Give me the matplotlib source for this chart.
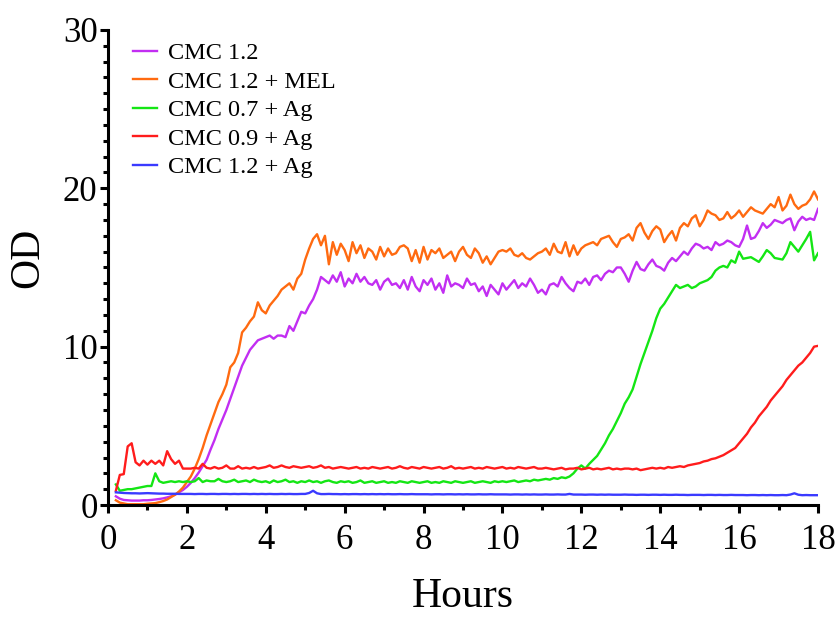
import numpy as np
import matplotlib
matplotlib.use("Agg")
import matplotlib.pyplot as plt
from matplotlib.ticker import MultipleLocator

plt.rcParams['font.family'] = ['Liberation Serif', 'DejaVu Serif']

# readings every 6 min, from 0.2 h to 18.0 h
hours = np.round(np.arange(2, 181) * 0.1, 1)

cmc12 = (
    [0.55, 0.4, 0.32, 0.3, 0.28, 0.28, 0.28, 0.3] +
    [0.3, 0.32, 0.35, 0.38, 0.42, 0.48, 0.55, 0.65, 0.8, 0.95] +
    [1.15, 1.4, 1.7, 2.05, 2.45, 2.85, 3.5, 4.1, 4.8, 5.4] +
    [6.0, 6.7, 7.4, 8.1, 8.8, 9.3, 9.8, 10.1, 10.4, 10.5] +
    [10.6, 10.7, 10.5, 10.7, 10.7, 10.6, 11.3, 11.0, 11.6, 12.2] +
    [12.1, 12.6, 13.0, 13.6, 14.4, 14.2, 14.0, 14.5, 14.1, 14.7] +
    [13.8, 14.3, 14.0, 14.6, 14.1, 14.4, 14.0, 13.9, 14.2, 13.6] +
    [14.1, 14.3, 13.9, 14.0, 13.7, 14.2, 13.6, 14.4, 13.8, 13.5] +
    [14.2, 13.9, 14.3, 13.6, 14.0, 13.4, 14.5, 13.8, 14.0, 13.9] +
    [13.7, 14.3, 13.9, 14.0, 13.5, 13.8, 13.2, 13.9, 13.6, 13.3] +
    [14.0, 13.6, 13.9, 14.2, 13.7, 14.0, 13.8, 14.3, 13.9, 13.4] +
    [13.6, 13.3, 13.9, 14.0, 13.8, 14.4, 14.0, 13.7, 13.5, 14.1] +
    [14.0, 14.3, 13.9, 14.4, 14.5, 14.2, 14.6, 14.8, 14.7, 15.0] +
    [15.0, 14.6, 14.1, 14.8, 15.35, 14.9, 14.8, 15.2, 15.5, 15.1] +
    [15.0, 14.8, 15.3, 15.6, 15.4, 15.7, 16.0, 15.8, 16.2, 16.5] +
    [16.4, 16.2, 16.3, 16.1, 16.6, 16.4, 16.5, 16.7, 16.6, 16.4] +
    [16.3, 16.8, 17.65, 16.8, 16.9, 17.3, 17.8, 17.5, 17.7, 18.0] +
    [17.9, 17.8, 18.0, 18.1, 17.35, 17.9, 18.2, 18.0, 18.1, 18.0] +
    [18.7]
)

cmc12_mel = (
    [0.3, 0.15, 0.1, 0.05, 0.05, 0.05, 0.05, 0.05] +
    [0.08, 0.1, 0.12, 0.18, 0.25, 0.35, 0.5, 0.65, 0.85, 1.1] +
    [1.45, 1.8, 2.3, 2.9, 3.6, 4.4, 5.1, 5.8, 6.5, 7.0] +
    [7.6, 8.7, 9.0, 9.6, 10.9, 11.2, 11.6, 11.9, 12.8, 12.3] +
    [12.1, 12.6, 12.9, 13.2, 13.6, 13.8, 14.0, 13.6, 14.3, 14.6] +
    [15.5, 16.2, 16.8, 17.1, 16.4, 17.0, 15.2, 16.6, 15.8, 16.5] +
    [16.1, 15.4, 16.6, 15.9, 16.4, 15.6, 16.2, 16.0, 15.5, 16.3] +
    [15.7, 16.2, 15.8, 15.9, 16.3, 16.4, 16.2, 15.4, 16.1, 15.3] +
    [16.3, 15.5, 16.1, 15.9, 16.2, 15.6, 15.8, 16.0, 15.4, 16.0] +
    [16.3, 15.8, 15.6, 16.2, 15.9, 15.3, 15.7, 15.2, 15.6, 16.0] +
    [16.1, 16.0, 16.2, 15.8, 15.7, 15.9, 15.6, 15.5, 15.7, 15.9] +
    [16.0, 16.2, 15.8, 16.5, 16.0, 15.9, 16.6, 15.7, 16.4, 15.8] +
    [16.2, 16.4, 16.5, 16.6, 16.4, 16.8, 16.9, 17.0, 16.6, 16.3] +
    [16.8, 16.9, 17.1, 16.7, 17.5, 17.8, 17.2, 16.8, 17.3, 17.6] +
    [17.4, 16.6, 17.0, 17.3, 16.7, 17.5, 17.8, 17.6, 18.1, 18.3] +
    [17.6, 18.0, 18.6, 18.4, 18.3, 18.0, 18.1, 18.5, 18.1, 18.3] +
    [18.6, 18.2, 18.5, 18.8, 18.6, 18.5, 18.4, 18.7, 19.0, 18.8] +
    [19.45, 18.6, 18.9, 19.6, 19.0, 18.7, 18.9, 19.0, 19.3, 19.8] +
    [19.3]
)

cmc07_ag = (
    [1.3, 0.9, 0.95, 1.0, 1.0, 1.05, 1.1, 1.15] +
    [1.2, 1.2, 2.0, 1.5, 1.4, 1.45, 1.5, 1.45, 1.5, 1.45] +
    [1.5, 1.45, 1.5, 1.7, 1.45, 1.55, 1.5, 1.5, 1.65, 1.5] +
    [1.45, 1.5, 1.6, 1.45, 1.5, 1.55, 1.45, 1.6, 1.5, 1.45] +
    [1.5, 1.4, 1.55, 1.45, 1.5, 1.6, 1.45, 1.5, 1.4, 1.5] +
    [1.45, 1.55, 1.45, 1.5, 1.4, 1.5, 1.55, 1.45, 1.4, 1.5] +
    [1.45, 1.5, 1.4, 1.45, 1.55, 1.4, 1.45, 1.5, 1.4, 1.45] +
    [1.5, 1.4, 1.45, 1.4, 1.5, 1.45, 1.4, 1.5, 1.45, 1.4] +
    [1.45, 1.5, 1.4, 1.45, 1.4, 1.5, 1.45, 1.4, 1.5, 1.45] +
    [1.4, 1.45, 1.5, 1.4, 1.45, 1.5, 1.45, 1.4, 1.5, 1.45] +
    [1.5, 1.45, 1.5, 1.55, 1.45, 1.5, 1.55, 1.5, 1.6, 1.55] +
    [1.6, 1.65, 1.6, 1.7, 1.65, 1.75, 1.7, 1.8, 2.0, 2.3] +
    [2.5, 2.3, 2.6, 2.85, 3.1, 3.5, 3.9, 4.4, 4.8, 5.3] +
    [5.8, 6.4, 6.8, 7.3, 8.1, 8.9, 9.6, 10.3, 11.0, 11.8] +
    [12.4, 12.7, 13.1, 13.5, 13.9, 13.7, 13.8, 13.9, 13.7, 13.8] +
    [14.0, 14.1, 14.2, 14.4, 14.8, 15.0, 15.1, 15.0, 15.45, 15.3] +
    [16.0, 15.55, 15.6, 15.65, 15.5, 15.35, 15.7, 16.1, 15.9, 15.6] +
    [15.55, 15.5, 15.9, 16.6, 16.3, 16.0, 16.4, 16.8, 17.25, 15.45] +
    [15.9]
)

cmc09_ag = (
    [0.9, 1.9, 1.95, 3.7, 3.9, 2.7, 2.5, 2.8] +
    [2.55, 2.8, 2.6, 2.8, 2.5, 3.4, 2.9, 2.6, 2.8, 2.3] +
    [2.3, 2.3, 2.35, 2.3, 2.6, 2.35, 2.3, 2.4, 2.3, 2.35] +
    [2.5, 2.3, 2.3, 2.45, 2.3, 2.35, 2.3, 2.4, 2.3, 2.35] +
    [2.4, 2.5, 2.35, 2.4, 2.5, 2.4, 2.35, 2.45, 2.4, 2.35] +
    [2.4, 2.45, 2.35, 2.4, 2.5, 2.35, 2.4, 2.3, 2.35, 2.4] +
    [2.35, 2.3, 2.35, 2.4, 2.3, 2.35, 2.3, 2.4, 2.35, 2.3] +
    [2.35, 2.4, 2.3, 2.35, 2.45, 2.35, 2.3, 2.4, 2.35, 2.3] +
    [2.4, 2.35, 2.3, 2.35, 2.4, 2.3, 2.35, 2.45, 2.3, 2.35] +
    [2.3, 2.35, 2.4, 2.3, 2.35, 2.3, 2.4, 2.35, 2.3, 2.35] +
    [2.4, 2.3, 2.35, 2.3, 2.4, 2.35, 2.3, 2.35, 2.4, 2.3] +
    [2.3, 2.35, 2.3, 2.25, 2.3, 2.35, 2.25, 2.3, 2.3, 2.35] +
    [2.25, 2.3, 2.35, 2.25, 2.3, 2.25, 2.3, 2.35, 2.25, 2.3] +
    [2.25, 2.3, 2.3, 2.25, 2.3, 2.2, 2.25, 2.3, 2.35, 2.3] +
    [2.35, 2.3, 2.4, 2.35, 2.4, 2.45, 2.4, 2.5, 2.55, 2.6] +
    [2.65, 2.75, 2.8, 2.9, 2.95, 3.05, 3.15, 3.3, 3.45, 3.6] +
    [3.9, 4.2, 4.5, 4.9, 5.2, 5.6, 5.9, 6.2, 6.6, 6.9] +
    [7.2, 7.5, 7.9, 8.2, 8.5, 8.8, 9.0, 9.3, 9.6, 10.0] +
    [10.05]
)

cmc12_ag = (
    [0.80, 0.78, 0.76, 0.75, 0.74, 0.74, 0.73, 0.74] +
    [0.75, 0.74, 0.73, 0.72, 0.72, 0.71, 0.71, 0.71, 0.70, 0.70] +
    [0.70, 0.70, 0.69, 0.70, 0.70, 0.69, 0.70, 0.70, 0.69, 0.70] +
    [0.70, 0.69, 0.70, 0.69, 0.70, 0.70, 0.69, 0.70, 0.69, 0.70] +
    [0.69, 0.70, 0.69, 0.69, 0.70, 0.69, 0.70, 0.69, 0.69, 0.70] +
    [0.70, 0.76, 0.90, 0.74, 0.69, 0.69, 0.70, 0.69, 0.69, 0.68] +
    [0.69, 0.68, 0.69, 0.69, 0.68, 0.69, 0.68, 0.69, 0.68, 0.69] +
    [0.68, 0.69, 0.68, 0.68, 0.69, 0.68, 0.68, 0.69, 0.68, 0.68] +
    [0.68, 0.68, 0.67, 0.68, 0.68, 0.67, 0.68, 0.68, 0.67, 0.68] +
    [0.67, 0.68, 0.67, 0.67, 0.68, 0.67, 0.67, 0.68, 0.67, 0.67] +
    [0.67, 0.67, 0.66, 0.67, 0.67, 0.66, 0.67, 0.66, 0.67, 0.66] +
    [0.66, 0.67, 0.66, 0.66, 0.67, 0.66, 0.66, 0.70, 0.66, 0.66] +
    [0.66, 0.65, 0.66, 0.66, 0.65, 0.66, 0.65, 0.66, 0.65, 0.65] +
    [0.65, 0.66, 0.65, 0.65, 0.64, 0.65, 0.65, 0.64, 0.65, 0.65] +
    [0.64, 0.65, 0.64, 0.64, 0.65, 0.64, 0.64, 0.63, 0.64, 0.64] +
    [0.64, 0.63, 0.64, 0.64, 0.63, 0.64, 0.63, 0.63, 0.64, 0.63] +
    [0.63, 0.63, 0.62, 0.63, 0.63, 0.62, 0.63, 0.62, 0.63, 0.62] +
    [0.62, 0.63, 0.62, 0.66, 0.74, 0.65, 0.62, 0.63, 0.62, 0.62] +
    [0.62]
)

labels = ['CMC 1.2', 'CMC 1.2 + MEL', 'CMC 0.7 + Ag', 'CMC 0.9 + Ag', 'CMC 1.2 + Ag']
series = [cmc12, cmc12_mel, cmc07_ag, cmc09_ag, cmc12_ag]
colors = ['#c22ef2', '#ff6a10', '#14e614', '#ff1c1c', '#3a3aff']

fig = plt.figure(figsize=(8.39, 6.17), dpi=100)
ax = fig.add_axes([0.1287, 0.1815, 0.8463, 0.7700])

for vals, lab, col in zip(series, labels, colors):
    ax.plot(hours, vals, color=col, lw=1.7, label=lab)

ax.set_xlim(0, 18)
ax.set_ylim(0, 30)
ax.xaxis.set_major_locator(MultipleLocator(2))
ax.xaxis.set_minor_locator(MultipleLocator(1))
ax.yaxis.set_major_locator(MultipleLocator(10))
ax.yaxis.set_minor_locator(MultipleLocator(1))

for side in ['top', 'right']:
    ax.spines[side].set_visible(False)
for side in ['left', 'bottom']:
    ax.spines[side].set_linewidth(2.2)

ax.tick_params(which='major', length=6, width=2.2, labelsize=25)
ax.tick_params(which='minor', length=3.5, width=2.2)
ax.tick_params(axis='x', which='major', pad=8)
ax.tick_params(axis='y', which='major', pad=1.5)

ax.set_xlabel('Hours', fontsize=30, va='center')
ax.set_ylabel('OD', fontsize=30, va='center')
ax.xaxis.set_label_coords(0.5, -0.193)
ax.yaxis.set_label_coords(-0.113, 0.52)

ax.legend(loc='upper left', bbox_to_anchor=(133 / 839, 1 - 42 / 617),
          bbox_transform=fig.transFigure, frameon=False, fontsize=17.5,
          handlelength=1.0, handletextpad=0.45, labelspacing=0.27,
          borderpad=0, borderaxespad=0)

fig.savefig('out.png', dpi=100)
